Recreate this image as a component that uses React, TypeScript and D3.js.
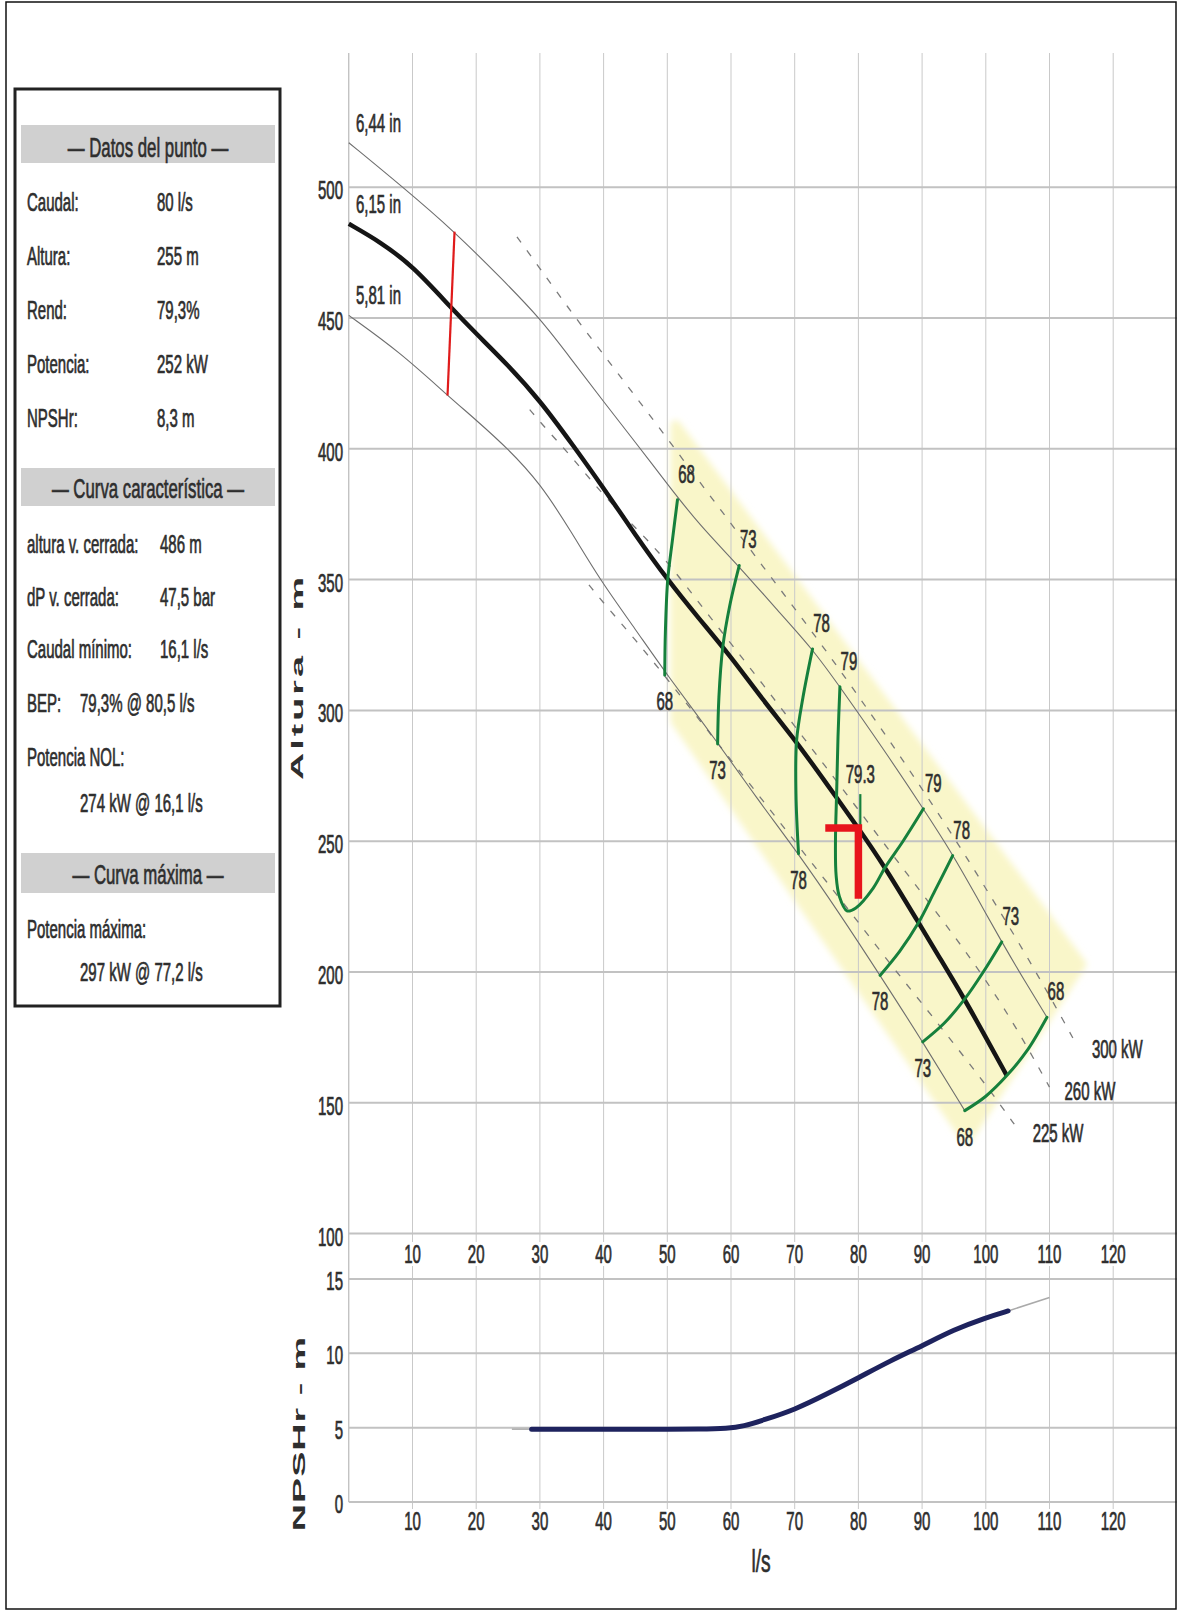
import React from 'react';
import * as d3 from 'd3';

const W = 1178;
const H = 1612;

// ---------- axes ----------
const Q_TICKS = [10, 20, 30, 40, 50, 60, 70, 80, 90, 100, 110, 120];
const H_TICKS = [100, 150, 200, 250, 300, 350, 400, 450, 500];
const NPSH_TICKS = [0, 5, 10, 15];

// ---------- H-Q curves (impeller diameters) ----------
const D644_Q = [0, 8.5, 16.6, 24, 30, 35, 40, 45, 50, 55, 61.3, 67, 72.8, 77.1, 84, 90.2, 94.8, 98.5, 102.5, 106, 109.6];
const D644_H = [517, 500, 483, 465, 450, 434, 418, 402.5, 386.5, 371, 355, 339, 323.5, 309, 285, 262.4, 245, 229, 211.5, 197, 182.7];
const D615_Q = [0, 5, 10, 16.2, 20, 25, 30, 35, 40, 45, 50, 55, 60, 65, 70.3, 75, 80, 84.2, 89.4, 93, 96.7, 100, 103.3];
const D615_H = [486, 479, 470, 453.5, 444, 432, 418.5, 402, 385, 367, 350, 335, 320.5, 304, 288, 272, 255, 240, 219, 204.5, 189.5, 175, 160.4];
const D581_Q = [0, 8, 15.5, 20, 25, 30, 35, 39.4, 45, 50, 58, 64, 70.6, 77, 83.4, 90.1, 96.7];
const D581_H = [451, 437, 420.4, 411, 400, 387, 368, 350, 331, 313.4, 287.5, 266.5, 245.2, 222.5, 198.7, 173.3, 147];
const DIAM_LABELS = ['6,44 in', '6,15 in', '5,81 in'];

// ---------- power lines ----------
const P300_Q = [26.4, 30, 35, 40, 45, 50, 55, 60, 65, 70, 75, 80, 85, 90, 95, 100, 105, 110, 114.3];
const P300_H = [481, 469, 452, 436, 420, 404, 387.5, 371.5, 355, 339, 322.5, 305.5, 288, 270, 251.5, 232, 212, 191, 172];
const P260_Q = [28.4, 31, 35, 40, 45, 50, 55, 60, 65, 70, 75, 80, 85, 90, 95, 100, 105, 110];
const P260_H = [415, 407.5, 397, 382, 370, 357, 341, 325.5, 310, 294, 278, 262, 246, 230, 214, 197, 178, 156];
const P225_Q = [37.7, 40, 45, 50, 55, 60, 65, 70, 75, 80, 85, 90, 95, 100, 105];
const P225_H = [348, 341, 327, 312, 296.5, 281, 265.5, 250, 234.5, 219, 203, 188, 172.5, 157, 140];
const POWER_LABELS = ['300 kW', '260 kW', '225 kW'];

// ---------- efficiency iso-lines ----------
const E68L_Q = [51.6, 50.8, 50.06, 49.7, 49.6];
const E68L_H = [380.5, 365, 349.7, 330, 313.4];
const E73L_Q = [61.3, 59.8, 58.7, 58.1, 57.9];
const E73L_H = [355.4, 340, 324, 305, 287.2];
const E78L_Q = [72.8, 71.3, 70.3, 70.2, 70.6];
const E78L_H = [323.5, 305, 288.5, 268, 245.2];
const E79_Q = [77.1, 76.8, 76.6, 76.4, 76.5, 77, 78.2, 79.6, 82.3, 84.2, 87, 90.2];
const E79_H = [309, 290, 270, 250, 237, 229, 223.4, 224.5, 232, 240, 250, 262.4];
const E78R_Q = [94.8, 92, 89.4, 86.5, 83.4];
const E78R_H = [244.5, 231, 218.7, 208, 198.7];
const E73R_Q = [102.5, 99.6, 96.7, 93.5, 90.1];
const E73R_H = [211.5, 200, 189.7, 180.5, 173.3];
const E68R_Q = [109.6, 106.5, 103.3, 100, 96.7];
const E68R_H = [182.7, 170, 160.4, 152.5, 147];
const E793_Q = [80.3, 80.3];
const E793_H = [268, 254];

// ---------- preferred operating region ----------
const REGION_Q = [51.3, 115, 97, 51.3];
const REGION_H = [409, 203, 136, 296];

// ---------- markers ----------
const MINFLOW_Q = [16.6, 15.5];
const MINFLOW_H = [483, 420.4];
const OP_Q = [74.8, 80, 80];
const OP_H = [255, 255, 228];

// ---------- NPSHr ----------
const NPSH_Q = [28.7, 35, 40, 45, 50, 55, 59.5, 62, 65, 70, 75, 80, 85, 90, 95, 100, 103.5];
const NPSH_V = [4.9, 4.9, 4.9, 4.9, 4.9, 4.9, 4.95, 5.1, 5.5, 6.2, 7.25, 8.35, 9.5, 10.5, 11.6, 12.4, 12.85];
const NPSH_EXT_L_Q = [25.6, 28.7];
const NPSH_EXT_L_V = [4.9, 4.9];
const NPSH_EXT_R_Q = [103.5, 110];
const NPSH_EXT_R_V = [12.85, 13.75];

// ---------- info box ----------
const PUNTO_LABELS = ['Caudal:', 'Altura:', 'Rend:', 'Potencia:', 'NPSHr:'];
const PUNTO_VALUES = ['80 l/s', '255 m', '79,3%', '252 kW', '8,3 m'];
const CURVA_LABELS = ['altura v. cerrada:', 'dP v. cerrada:', 'Caudal mínimo:'];
const CURVA_VALUES = ['486 m', '47,5 bar', '16,1 l/s'];
const HEADERS = ['— Datos del punto —', '— Curva característica —', '— Curva máxima —'];

const FONT = "'Liberation Sans', Arial, Helvetica, sans-serif";
const SX = 0.6;
const INK = '#2e2e2e';

type TP = { x: number; y: number; size?: number; anchor?: string; fill?: string; children: React.ReactNode };
const T = ({ x, y, size = 25, anchor = 'start', fill = INK, children }: TP) => (
  <text
    transform={`translate(${x},${y}) scale(${SX},1)`}
    fontSize={size}
    fontFamily={FONT}
    textAnchor={anchor as any}
    fill={fill}
    stroke={fill}
    strokeWidth={0.7}
  >
    {children}
  </text>
);

const zip = (qs: number[], hs: number[]) => qs.map((q, i) => [q, hs[i]] as [number, number]);

export default function App() {
  const x = d3.scaleLinear().domain([0, 130]).range([348.8, 1176.9]);
  const y = d3.scaleLinear().domain([100, 550]).range([1233.6, 56.4]);
  const yN = d3.scaleLinear().domain([0, 15]).range([1502, 1279]);

  const lineB = d3.line<[number, number]>().x(d => x(d[0])).y(d => y(d[1])).curve(d3.curveBasis);
  const lineC = d3.line<[number, number]>().x(d => x(d[0])).y(d => y(d[1])).curve(d3.curveCatmullRom.alpha(0.5));
  const lineN = d3.line<[number, number]>().x(d => x(d[0])).y(d => yN(d[1])).curve(d3.curveBasis);
  const lineS = d3.line<[number, number]>().x(d => x(d[0])).y(d => y(d[1]));

  const diam = [zip(D644_Q, D644_H), zip(D615_Q, D615_H), zip(D581_Q, D581_H)];
  const power = [zip(P300_Q, P300_H), zip(P260_Q, P260_H), zip(P225_Q, P225_H)];
  const eff = [
    { pts: zip(E68L_Q, E68L_H), label: '68', topEnd: false },
    { pts: zip(E73L_Q, E73L_H), label: '73', topEnd: false },
    { pts: zip(E78L_Q, E78L_H), label: '78', topEnd: false },
    { pts: zip(E79_Q, E79_H), label: '79', topEnd: true },
    { pts: zip(E78R_Q, E78R_H), label: '78', topEnd: false },
    { pts: zip(E73R_Q, E73R_H), label: '73', topEnd: false },
    { pts: zip(E68R_Q, E68R_H), label: '68', topEnd: false },
  ];
  const region = zip(REGION_Q, REGION_H);

  const gridTop = 53;
  const gridBottom = 1532;
  const xTickRows = [1254, 1521];

  return (
    <svg width={W} height={H} style={{ position: 'absolute', left: 0, top: 0, background: '#fff' }}>
      <defs>
        <filter id="soft" x="-10%" y="-10%" width="120%" height="120%">
          <feGaussianBlur stdDeviation="3" />
        </filter>
      </defs>
      <rect x={0} y={0} width={W} height={H} fill="#fff" />

      {/* preferred operating region */}
      <path
        d={lineS(region) + 'Z'}
        fill="#f9f6c9"
        stroke="#f9f6c9"
        strokeWidth={10}
        strokeLinejoin="round"
        filter="url(#soft)"
      />

      {/* vertical grid */}
      {[0, ...Q_TICKS].map(q => (
        <line key={'vg' + q} x1={x(q)} x2={x(q)} y1={gridTop} y2={q === 0 ? yN(0) : gridBottom} stroke={q === 0 ? '#aaa' : '#c9c9c9'} strokeWidth={1} />
      ))}
      {H_TICKS.map(h => (
        <line key={'hg' + h} x1={x(0)} x2={x(130)} y1={y(h)} y2={y(h)} stroke="#c2c2c2" strokeWidth={2} />
      ))}
      {NPSH_TICKS.map(v => (
        <line key={'ng' + v} x1={x(0)} x2={x(130)} y1={yN(v)} y2={yN(v)} stroke="#c2c2c2" strokeWidth={2} />
      ))}

      {/* x tick labels (two rows) */}
      {xTickRows.map((cy, r) =>
        Q_TICKS.map(q => (
          <g key={'xt' + r + q}>
            <rect x={x(q) - 15} y={cy - 12} width={30} height={24} fill="#fff" />
            <T x={x(q)} y={cy + 9} anchor="middle">{q}</T>
          </g>
        ))
      )}
      {H_TICKS.map(h => (
        <T key={'yt' + h} x={343} y={y(h) + 12} anchor="end">{h}</T>
      ))}
      {NPSH_TICKS.map(v => (
        <T key={'nt' + v} x={343} y={yN(v) + 11} anchor="end">{v}</T>
      ))}

      {/* axis titles */}
      <text
        transform={`translate(303,678.5) rotate(-90) scale(1.45,0.6)`}
        fontSize={26}
        fontWeight="bold"
        fontFamily={FONT}
        textAnchor="middle"
        fill={INK}
        textLength={140}
        lengthAdjust="spacing"
      >
        Altura - m
      </text>
      <text
        transform={`translate(305,1434) rotate(-90) scale(1.45,0.6)`}
        fontSize={26}
        fontWeight="bold"
        fontFamily={FONT}
        textAnchor="middle"
        fill={INK}
        textLength={134}
        lengthAdjust="spacing"
      >
        NPSHr - m
      </text>
      <T x={761} y={1572} size={32} anchor="middle">l/s</T>

      {/* power lines */}
      {power.map((pts, i) => (
        <path key={'pw' + i} d={lineB(pts) || ''} fill="none" stroke="#7a7a7a" strokeWidth={1.3} strokeDasharray="7,10" />
      ))}
      {power.map((pts, i) => {
        const last = pts[pts.length - 1];
        return (
          <T key={'pl' + i} x={x(last[0]) + 15} y={y(last[1]) + 13}>{POWER_LABELS[i]}</T>
        );
      })}

      {/* diameter curves */}
      <path d={lineB(diam[0]) || ''} fill="none" stroke="#6e6e6e" strokeWidth={1.1} />
      <path d={lineB(diam[2]) || ''} fill="none" stroke="#6e6e6e" strokeWidth={1.1} />
      <path d={lineB(diam[1]) || ''} fill="none" stroke="#151515" strokeWidth={4.5} />
      {diam.map((pts, i) => (
        <T key={'dl' + i} x={356} y={y(pts[0][1]) - 11}>{DIAM_LABELS[i]}</T>
      ))}

      {/* min flow line */}
      <path d={lineS(zip(MINFLOW_Q, MINFLOW_H)) || ''} stroke="#e01b1b" strokeWidth={2.2} fill="none" />

      {/* efficiency curves */}
      {eff.map((e, i) => (
        <path key={'ef' + i} d={lineC(e.pts) || ''} fill="none" stroke="#16803c" strokeWidth={3} strokeLinecap="round" />
      ))}
      <path d={lineS(zip(E793_Q, E793_H)) || ''} fill="none" stroke="#16803c" strokeWidth={2.2} />
      {eff.map((e, i) => {
        const a = e.pts[0];
        const b = e.pts[e.pts.length - 1];
        return (
          <g key={'efl' + i}>
            <T x={x(a[0]) + 9} y={y(a[1]) - 17} anchor="middle">{e.label}</T>
            {e.topEnd ? (
              <T x={x(b[0]) + 10} y={y(b[1]) - 17} anchor="middle">{e.label}</T>
            ) : (
              <T x={x(b[0])} y={y(b[1]) + 35} anchor="middle">{e.label}</T>
            )}
          </g>
        );
      })}
      <T x={x(E793_Q[0])} y={y(E793_H[0]) - 11} anchor="middle">79.3</T>

      {/* operating point marker */}
      <path d={lineS(zip(OP_Q, OP_H)) || ''} fill="none" stroke="#e8141c" strokeWidth={7.5} strokeLinejoin="miter" />

      {/* NPSHr curve */}
      <path d={lineS(zip(NPSH_EXT_L_Q, NPSH_EXT_L_V).map(d => [d[0], d[1]] as [number, number])) ? d3.line<[number, number]>().x(d => x(d[0])).y(d => yN(d[1]))(zip(NPSH_EXT_L_Q, NPSH_EXT_L_V)) || '' : ''} fill="none" stroke="#aaa" strokeWidth={1.5} />
      <path d={d3.line<[number, number]>().x(d => x(d[0])).y(d => yN(d[1]))(zip(NPSH_EXT_R_Q, NPSH_EXT_R_V)) || ''} fill="none" stroke="#aaa" strokeWidth={1.5} />
      <path d={lineN(zip(NPSH_Q, NPSH_V)) || ''} fill="none" stroke="#1e235e" strokeWidth={5} strokeLinecap="round" />

      {/* info box */}
      <rect x={15} y={89} width={265} height={917} fill="#fff" stroke="#222" strokeWidth={3} />
      <rect x={21} y={125} width={254} height={38} fill="#d0d0d0" />
      <rect x={21} y={468} width={254} height={38} fill="#d0d0d0" />
      <rect x={21} y={853} width={254} height={40} fill="#d0d0d0" />
      <T x={148} y={157} size={28} anchor="middle">{HEADERS[0]}</T>
      <T x={148} y={498} size={28} anchor="middle">{HEADERS[1]}</T>
      <T x={148} y={884} size={28} anchor="middle">{HEADERS[2]}</T>
      {PUNTO_LABELS.map((l, i) => (
        <g key={'pu' + i}>
          <T x={27} y={201.7 + i * 54.15 + 9}>{l}</T>
          <T x={157} y={201.7 + i * 54.15 + 9}>{PUNTO_VALUES[i]}</T>
        </g>
      ))}
      {CURVA_LABELS.map((l, i) => (
        <g key={'cu' + i}>
          <T x={27} y={544.2 + i * 52.4 + 9}>{l}</T>
          <T x={160} y={544.2 + i * 52.4 + 9}>{CURVA_VALUES[i]}</T>
        </g>
      ))}
      <T x={27} y={712}>BEP:</T>
      <T x={80} y={712}>79,3% @ 80,5 l/s</T>
      <T x={27} y={766}>Potencia NOL:</T>
      <T x={80} y={811.6}>274 kW @ 16,1 l/s</T>
      <T x={27} y={938.3}>Potencia máxima:</T>
      <T x={80} y={980.6}>297 kW @ 77,2 l/s</T>

      {/* outer frame */}
      <rect x={6} y={2} width={1170} height={1607} fill="none" stroke="#111" strokeWidth={1.5} />
    </svg>
  );
}
